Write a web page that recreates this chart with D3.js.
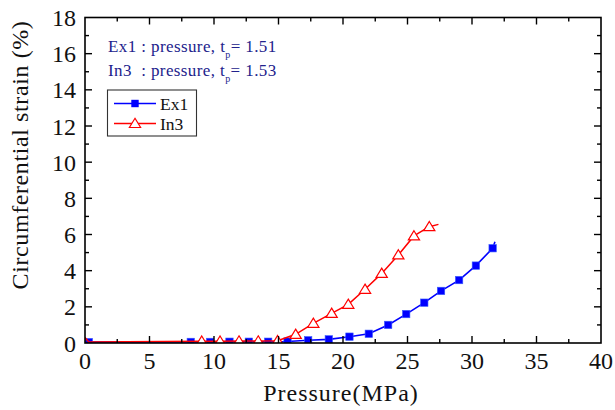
<!DOCTYPE html>
<html>
<head>
<meta charset="utf-8">
<script src="https://cdn.jsdelivr.net/npm/d3@7/dist/d3.min.js"></script>
<style>
  html, body { margin: 0; padding: 0; background: #fff; }
  svg { display: block; }
  text { font-family: "Liberation Serif", "Times New Roman", serif; white-space: pre; }
</style>
</head>
<body>
<svg id="chart" width="615" height="410"></svg>
<script>
// Ex1 specimen: pressure (MPa) vs circumferential strain (%)
const ex1Pressure = [0.3, 8.2, 9.7, 11.2, 12.7, 14.2, 15.7, 17.3, 18.9, 20.5, 22.0, 23.5, 24.9, 26.3, 27.6, 29.0, 30.3, 31.6];
const ex1Strain   = [0.05, 0.06, 0.06, 0.07, 0.07, 0.07, 0.08, 0.15, 0.2, 0.35, 0.51, 1.0, 1.6, 2.23, 2.88, 3.48, 4.28, 5.24];
const ex1LineEnd  = [31.78, 5.6];   // last recorded point (no symbol)

// In3 specimen
const in3LineStart = [[0, 0.3], [0.3, 0.05]];  // first recorded points (no symbol)
const in3Pressure = [9.05, 10.47, 11.94, 13.43, 14.93, 16.33, 17.70, 19.12, 20.41, 21.71, 23.0, 24.29, 25.5, 26.69];
const in3Strain   = [0.1, 0.1, 0.11, 0.11, 0.13, 0.48, 1.09, 1.64, 2.14, 2.97, 3.85, 4.87, 5.92, 6.43];
const in3LineEnd  = [27.4, 6.56];

const xTicks = [0, 5, 10, 15, 20, 25, 30, 35, 40];
const yTicks = [0, 2, 4, 6, 8, 10, 12, 14, 16, 18];
const xMinor = [2.5, 7.5, 12.5, 17.5, 22.5, 27.5, 32.5, 37.5];
const yMinor = [1, 3, 5, 7, 9, 11, 13, 15, 17];

const notes = [
  { name: "Ex1", gap: " ", tp: "1.51" },
  { name: "In3", gap: "  ", tp: "1.53" }
];

const svg = d3.select("#chart");
const pLeft = 85, pRight = 601, pTop = 17.5, pBottom = 343;

const x = d3.scaleLinear().domain([0, 40]).range([pLeft, pRight]);
const y = d3.scaleLinear().domain([0, 18]).range([pBottom, pTop]);

const blue = "#0000ff", red = "#ff0000";

// clip for the data
svg.append("defs").append("clipPath").attr("id", "plotClip")
  .append("rect").attr("x", pLeft).attr("y", pTop)
  .attr("width", pRight - pLeft).attr("height", pBottom - pTop);

const plot = svg.append("g").attr("clip-path", "url(#plotClip)");

const line = d3.line().x(d => x(d[0])).y(d => y(d[1]));

// Ex1 curve
const ex1Pts = ex1Pressure.map((p, i) => [p, ex1Strain[i]]);
plot.append("path")
  .datum([[0, 0.05], ...ex1Pts, ex1LineEnd])
  .attr("d", line).attr("fill", "none")
  .attr("stroke", blue).attr("stroke-width", 1.6);
const sq = 7.4;
plot.selectAll(".sq").data(ex1Pts).enter().append("rect")
  .attr("x", d => x(d[0]) - sq / 2).attr("y", d => y(d[1]) - sq / 2)
  .attr("width", sq).attr("height", sq)
  .attr("fill", blue).attr("stroke", "#3a5cff").attr("stroke-width", 0.6);

// In3 curve
const in3Pts = in3Pressure.map((p, i) => [p, in3Strain[i]]);
plot.append("path")
  .datum([...in3LineStart, ...in3Pts, in3LineEnd])
  .attr("d", line).attr("fill", "none")
  .attr("stroke", red).attr("stroke-width", 1.5);
const tri = (cx, cy) => `M${cx},${cy - 5.2}L${cx + 5.6},${cy + 4}L${cx - 5.6},${cy + 4}Z`;
plot.selectAll(".tri").data(in3Pts).enter().append("path")
  .attr("d", d => tri(x(d[0]), y(d[1])))
  .attr("fill", "#fff").attr("stroke", red).attr("stroke-width", 1.2);

// frame and ticks (inward on all four sides)
const axes = svg.append("g").attr("stroke", "#000");
axes.append("rect").attr("x", pLeft).attr("y", pTop)
  .attr("width", pRight - pLeft).attr("height", pBottom - pTop)
  .attr("fill", "none").attr("stroke-width", 1.6);

const tickLen = { major: 7, minor: 4 };
function xTickMarks(vals, len) {
  vals.forEach(v => {
    axes.append("line").attr("x1", x(v)).attr("x2", x(v)).attr("y1", pBottom).attr("y2", pBottom - len).attr("stroke-width", 1.4);
    axes.append("line").attr("x1", x(v)).attr("x2", x(v)).attr("y1", pTop).attr("y2", pTop + len).attr("stroke-width", 1.4);
  });
}
function yTickMarks(vals, len) {
  vals.forEach(v => {
    axes.append("line").attr("y1", y(v)).attr("y2", y(v)).attr("x1", pLeft).attr("x2", pLeft + len).attr("stroke-width", 1.4);
    axes.append("line").attr("y1", y(v)).attr("y2", y(v)).attr("x1", pRight).attr("x2", pRight - len).attr("stroke-width", 1.4);
  });
}
xTickMarks(xTicks.slice(1, -1), tickLen.major);
xTickMarks(xMinor, tickLen.minor);
yTickMarks(yTicks.slice(1, -1), tickLen.major);
yTickMarks(yMinor, tickLen.minor);

// tick labels
svg.selectAll(".xl").data(xTicks).enter().append("text")
  .attr("x", d => x(d)).attr("y", 369)
  .attr("text-anchor", "middle").attr("font-size", 24).attr("fill", "#111")
  .text(d => d);
svg.selectAll(".yl").data(yTicks).enter().append("text")
  .attr("x", 76).attr("y", d => y(d) + 8.5)
  .attr("text-anchor", "end").attr("font-size", 24).attr("fill", "#111")
  .text(d => d);

// axis titles
svg.append("text").attr("x", 341).attr("y", 401)
  .attr("text-anchor", "middle").attr("font-size", 24).attr("letter-spacing", 1)
  .attr("fill", "#111")
  .text("Pressure(MPa)");
svg.append("text")
  .attr("transform", "translate(28,155) rotate(-90)")
  .attr("text-anchor", "middle").attr("font-size", 24).attr("letter-spacing", 0.6)
  .attr("fill", "#111")
  .text("Circumferential strain (%)");

// annotations
notes.forEach((n, i) => {
  const t = svg.append("text").attr("x", 108).attr("y", 52 + i * 24)
    .attr("font-size", 17).attr("letter-spacing", 0.4).attr("fill", "#22228c");
  t.append("tspan").text(`${n.name}${n.gap}: pressure, t`);
  t.append("tspan").attr("font-size", 10).attr("dy", 6).text("p");
  t.append("tspan").attr("dy", -6).text(`= ${n.tp}`);
});

// legend
const lg = svg.append("g");
lg.append("rect").attr("x", 107.5).attr("y", 90).attr("width", 89).attr("height", 46)
  .attr("fill", "#fff").attr("stroke", "#333").attr("stroke-width", 1.1);
const legendRows = [
  { label: "Ex1", color: blue, kind: "sq", cy: 103.5 },
  { label: "In3", color: red, kind: "tri", cy: 123.5 }
];
legendRows.forEach(r => {
  lg.append("line").attr("x1", 114).attr("x2", 156).attr("y1", r.cy).attr("y2", r.cy)
    .attr("stroke", r.color).attr("stroke-width", 1.5);
  if (r.kind === "sq") {
    lg.append("rect").attr("x", 135 - sq / 2).attr("y", r.cy - sq / 2).attr("width", sq).attr("height", sq)
      .attr("fill", blue);
  } else {
    lg.append("path").attr("d", tri(135, r.cy)).attr("fill", "#fff").attr("stroke", red).attr("stroke-width", 1.2);
  }
  lg.append("text").attr("x", 160).attr("y", r.cy + 6).attr("font-size", 17.5).attr("fill", "#111").text(r.label);
});
</script>
</body>
</html>
